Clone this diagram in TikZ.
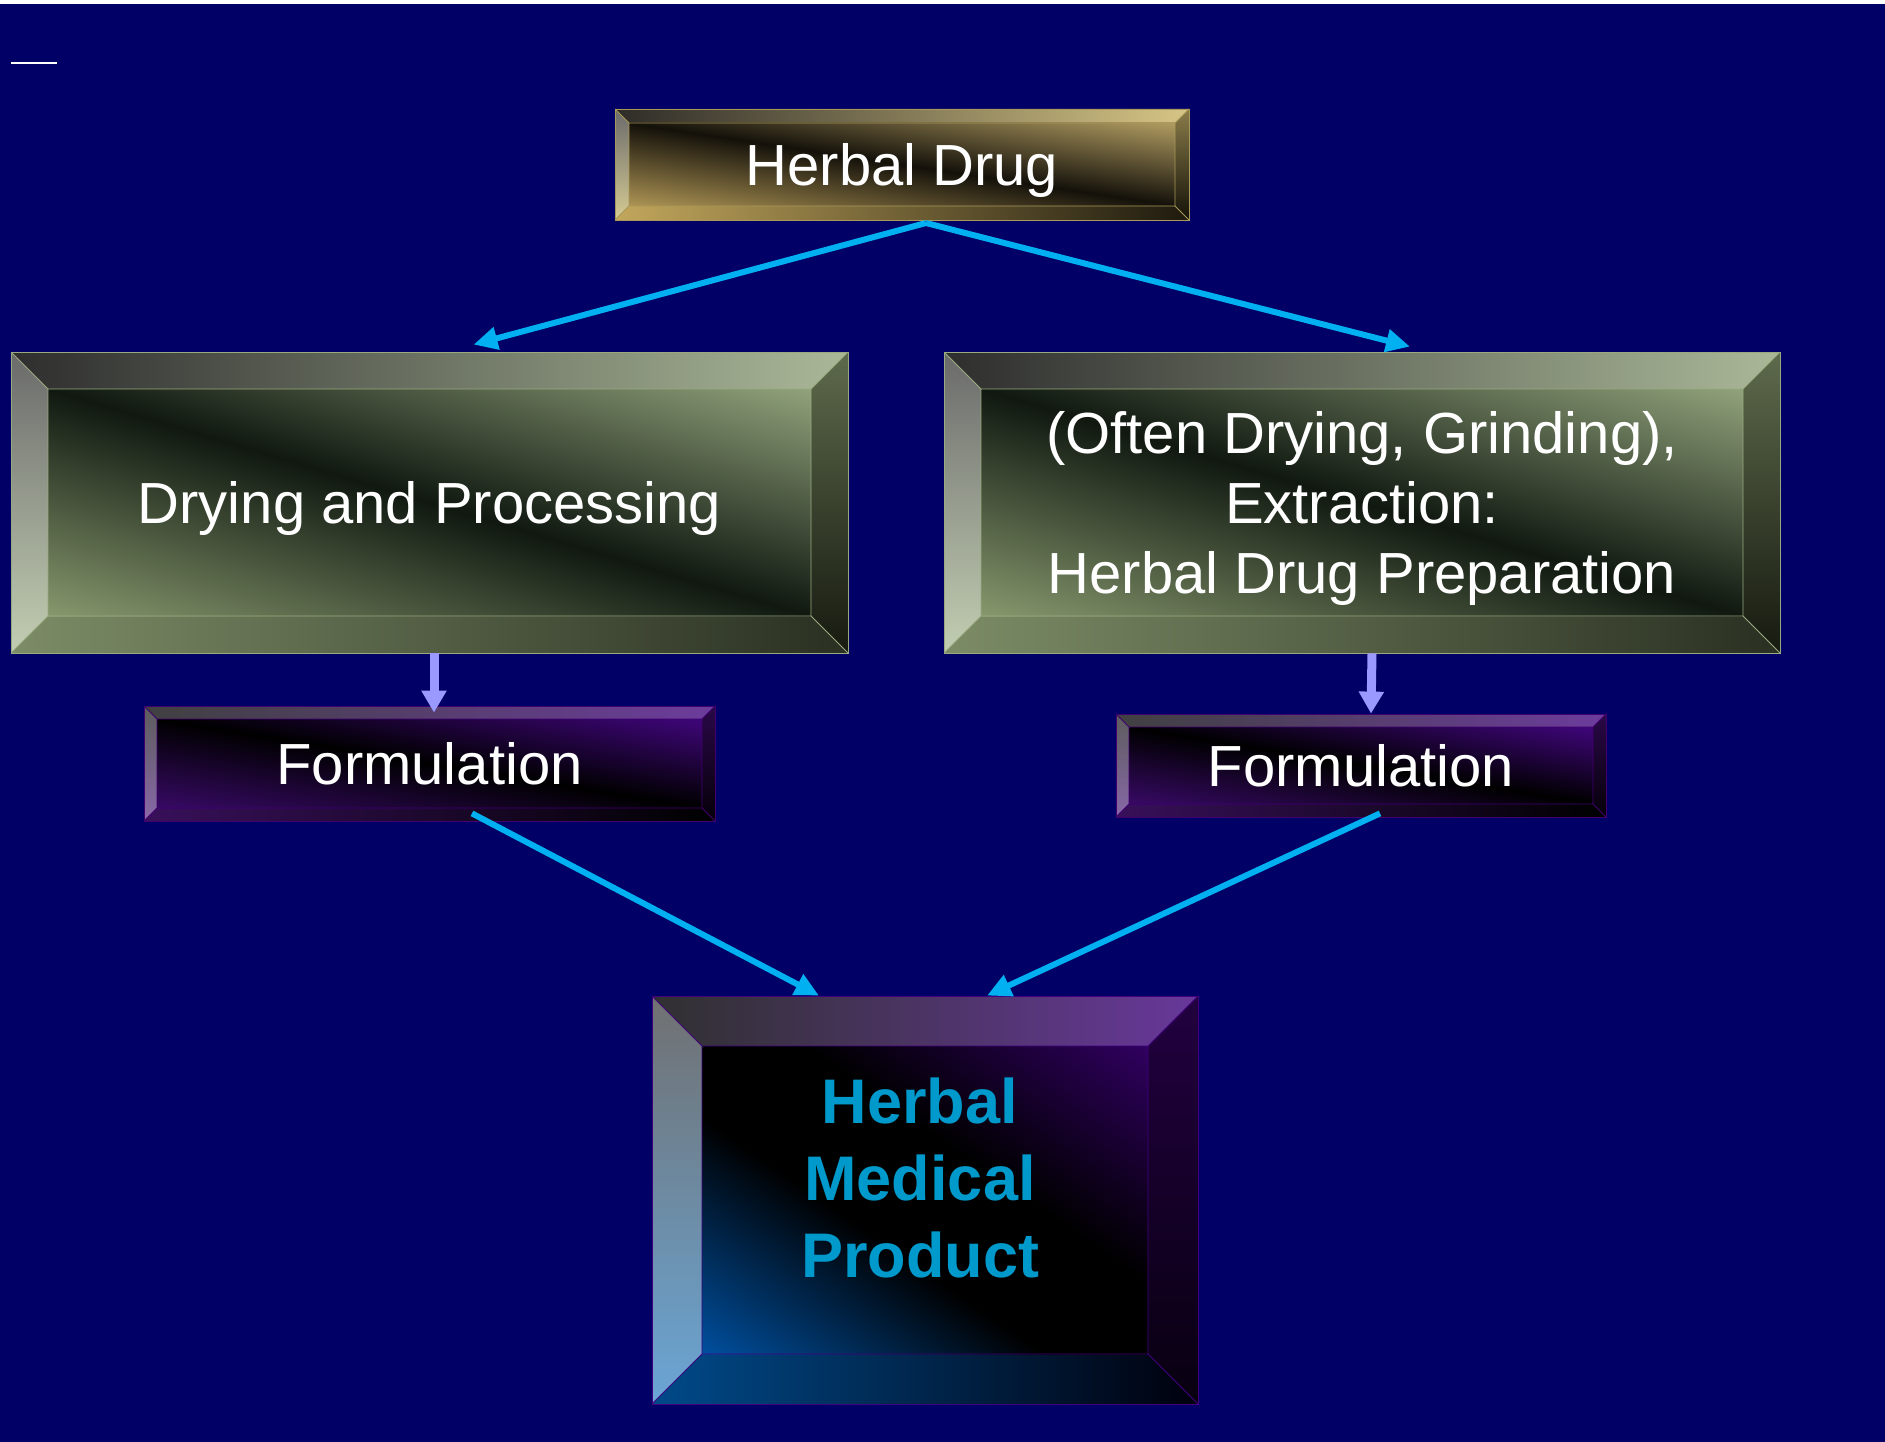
\documentclass[tikz,border=0pt]{standalone}
\usepackage{fontspec}
\setmainfont{Liberation Sans}
\usepackage{xcolor}
\usepackage{tikz}
\usetikzlibrary{arrows.meta}

% Colours
\definecolor{slide}{HTML}{000066}
\definecolor{arrowcyan}{HTML}{00B0F0}
\definecolor{arrowlav}{HTML}{9999FF}
\definecolor{prodtext}{HTML}{0099CC}
% gold box
\definecolor{goldTopL}{HTML}{2E2C28}\definecolor{goldTopR}{HTML}{D6C585}
\definecolor{goldBotL}{HTML}{C2A75C}\definecolor{goldBotR}{HTML}{1E1A0E}
\definecolor{goldLeftT}{HTML}{6A6A6A}\definecolor{goldLeftB}{HTML}{D6CB94}
\definecolor{goldRightT}{HTML}{8A7C4A}\definecolor{goldRightB}{HTML}{141208}
\definecolor{goldFaceA}{HTML}{C1A55E}\definecolor{goldFaceB}{HTML}{14110A}
\definecolor{goldFaceC}{HTML}{C4AD6C}\definecolor{goldLine}{HTML}{A89858}
% olive boxes
\definecolor{oliveTopL}{HTML}{2E2E2E}\definecolor{oliveTopR}{HTML}{AAB898}
\definecolor{oliveBotL}{HTML}{7C8C66}\definecolor{oliveBotR}{HTML}{2A3022}
\definecolor{oliveLeftT}{HTML}{6A6A6A}\definecolor{oliveLeftB}{HTML}{C2CEB2}
\definecolor{oliveRightT}{HTML}{5E6A4C}\definecolor{oliveRightB}{HTML}{161A10}
\definecolor{oliveFaceA}{HTML}{8A9C70}\definecolor{oliveFaceB}{HTML}{101810}
\definecolor{oliveFaceC}{HTML}{94A67E}\definecolor{oliveLine}{HTML}{9AAA80}
% purple boxes
\definecolor{purpTopL}{HTML}{404040}\definecolor{purpTopR}{HTML}{6C3C9C}
\definecolor{purpBotL}{HTML}{38105A}\definecolor{purpBotR}{HTML}{000000}
\definecolor{purpLeftT}{HTML}{5C5C5C}\definecolor{purpLeftB}{HTML}{8868A8}
\definecolor{purpRightT}{HTML}{2A0848}\definecolor{purpRightB}{HTML}{050008}
\definecolor{purpFaceA}{HTML}{3A0A6A}\definecolor{purpFaceB}{HTML}{000000}
\definecolor{purpFaceC}{HTML}{420680}\definecolor{purpLine}{HTML}{400070}
% product box
\definecolor{prodTopL}{HTML}{303030}\definecolor{prodTopR}{HTML}{68389A}
\definecolor{prodBotL}{HTML}{004A8A}\definecolor{prodBotR}{HTML}{00000C}
\definecolor{prodLeftT}{HTML}{707070}\definecolor{prodLeftB}{HTML}{6AA6D6}
\definecolor{prodRightT}{HTML}{220040}\definecolor{prodRightB}{HTML}{080010}
\definecolor{prodFaceA}{HTML}{0050A0}\definecolor{prodFaceB}{HTML}{000000}
\definecolor{prodFaceC}{HTML}{300060}\definecolor{prodLine}{HTML}{400080}

% Face shadings
\pgfdeclarehorizontalshading{goldface}{100bp}{color(0bp)=(goldFaceA); color(18bp)=(goldFaceA); color(50bp)=(goldFaceB); color(82bp)=(goldFaceC); color(100bp)=(goldFaceC)}
\pgfdeclarehorizontalshading{oliveface}{100bp}{color(0bp)=(oliveFaceA); color(18bp)=(oliveFaceA); color(50bp)=(oliveFaceB); color(82bp)=(oliveFaceC); color(100bp)=(oliveFaceC)}
\pgfdeclarehorizontalshading{purpface}{100bp}{color(0bp)=(purpFaceA); color(20bp)=(purpFaceA); color(50bp)=(purpFaceB); color(80bp)=(purpFaceC); color(100bp)=(purpFaceC)}
\pgfdeclarehorizontalshading{prodface}{100bp}{color(0bp)=(prodFaceA); color(15bp)=(prodFaceA); color(42bp)=(prodFaceB); color(58bp)=(prodFaceB); color(85bp)=(prodFaceC); color(100bp)=(prodFaceC)}

% bevelled face, #1 colour set, #2 bevel width, #3 face angle
\newcommand\bevelfill[3]{%
  \path (path picture bounding box.north west) coordinate (bNW)
        (path picture bounding box.north east) coordinate (bNE)
        (path picture bounding box.south east) coordinate (bSE)
        (path picture bounding box.south west) coordinate (bSW);
  \path ([shift={(#2pt,-#2pt)}]bNW) coordinate (iNW)
        ([shift={(-#2pt,-#2pt)}]bNE) coordinate (iNE)
        ([shift={(-#2pt,#2pt)}]bSE) coordinate (iSE)
        ([shift={(#2pt,#2pt)}]bSW) coordinate (iSW);
  \shade[left color=#1TopL, right color=#1TopR] (bNW) -- (bNE) -- (iNE) -- (iNW) -- cycle;
  \shade[left color=#1BotL, right color=#1BotR] (bSW) -- (bSE) -- (iSE) -- (iSW) -- cycle;
  \shade[top color=#1LeftT, bottom color=#1LeftB] (bNW) -- (iNW) -- (iSW) -- (bSW) -- cycle;
  \shade[top color=#1RightT, bottom color=#1RightB] (bNE) -- (iNE) -- (iSE) -- (bSE) -- cycle;
  \shade[shading=#1face, shading angle=#3] (iNW) rectangle (iSE);
  \draw[#1Line, line width=0.8pt] (iNW) rectangle (iSE)
        (bNW) -- (iNW) (bNE) -- (iNE) (bSE) -- (iSE) (bSW) -- (iSW);
}

\begin{document}
\begin{tikzpicture}[x=1pt, y=-1pt,
  bevel/.style n args={3}{draw=#1Line, line width=0.8pt, inner sep=0pt,
    text=white, align=center, font=\fontsize{58}{70}\selectfont,
    path picture={\bevelfill{#1}{#2}{#3}}},
  cyanarrow/.style={draw=arrowcyan, line width=6pt, -{Triangle[length=24pt,width=22pt]}},
  lavarrow/.style={draw=arrowlav, line width=9pt, -{Triangle[length=22pt,width=24pt]}},
  ]
% Slide
\useasboundingbox (0,0) rectangle (1885,1442);
\fill[slide] (0,0) rectangle (1885,1442);
\fill[white] (0,0) rectangle (1885,4);
\draw[white, line width=2pt] (11,63) -- (57,63);

% Boxes
\node[bevel={gold}{14}{81.4}, text depth=-7pt, minimum width=574pt, minimum height=111pt] (drug) at (902,164.5) {Herbal Drug};
\node[bevel={olive}{37}{73.4}, text depth=0pt, minimum width=837pt, minimum height=301pt] (dry) at (429.5,502.5) {Drying and Processing};
\node[bevel={olive}{37}{73.4}, text depth=-6pt, minimum width=836pt, minimum height=301pt] (extr) at (1362,502.5)
  {(Often Drying, Grinding),\\Extraction:\\Herbal Drug Preparation};
\node[bevel={purp}{13}{80.7}, minimum width=571pt, minimum height=115pt] (form1) at (429.5,763.5) {Formulation};
\node[bevel={purp}{13}{80.6}, minimum width=490pt, minimum height=103pt] (form2) at (1361,765.5) {Formulation};
\node[bevel={prod}{50}{55.4}, minimum width=546pt, minimum height=408pt] (prod) at (925,1200) {};
\node[text=prodtext, align=center, font=\fontsize{63}{77}\selectfont\bfseries,
  xshift=-5pt, yshift=22pt] (prodtxt) at (prod.center) {Herbal\\Medical\\Product};

% Arrows
\coordinate (fork) at (926,223);
\draw[cyanarrow] (fork) -- ([shift={(44,-7)}]dry.north);
\draw[cyanarrow] (fork) -- ([shift={(48,-5)}]extr.north);
\draw[lavarrow] ([xshift=4.5pt]dry.south) -- ([shift={(4.5,7)}]form1.north);
\draw[lavarrow] ([xshift=10pt]extr.south) -- ([shift={(10,0)}]form2.north);
\draw[cyanarrow] ([shift={(42.5,-8)}]form1.south) -- ([shift={(-106,0)}]prod.north);
\draw[cyanarrow] ([shift={(19,-4)}]form2.south) -- ([shift={(62,0)}]prod.north);
\end{tikzpicture}
\end{document}
